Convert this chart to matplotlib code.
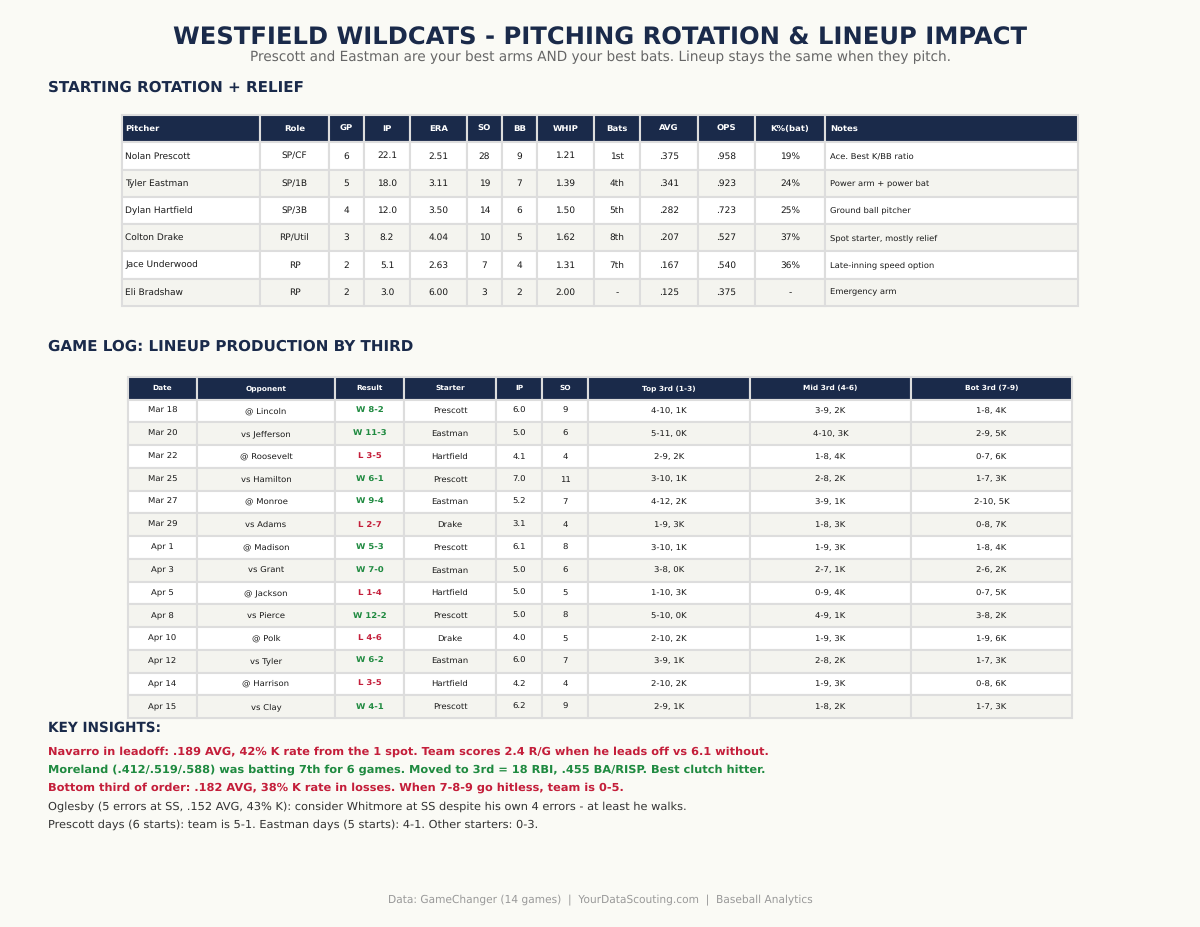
import matplotlib
matplotlib.use("Agg")
import matplotlib.pyplot as plt

plt.rcParams["text.hinting"] = "no_hinting"
plt.rcParams["text.hinting_factor"] = 8

NAVY = "#1a2a4a"; BG = "#fafaf5"; ALT = "#f4f4ef"; EDGE = "#dddddd"
GREEN = "#1f8a40"; RED = "#c41e3a"; W, H = 1200, 927

pitch_cols = ["Pitcher","Role","GP","IP","ERA","SO","BB","WHIP","Bats","AVG","OPS","K%(bat)","Notes"]
pitch_rows = [
 ["Nolan Prescott","SP/CF","6","22.1","2.51","28","9","1.21","1st",".375",".958","19%","Ace. Best K/BB ratio"],
 ["Tyler Eastman","SP/1B","5","18.0","3.11","19","7","1.39","4th",".341",".923","24%","Power arm + power bat"],
 ["Dylan Hartfield","SP/3B","4","12.0","3.50","14","6","1.50","5th",".282",".723","25%","Ground ball pitcher"],
 ["Colton Drake","RP/Util","3","8.2","4.04","10","5","1.62","8th",".207",".527","37%","Spot starter, mostly relief"],
 ["Jace Underwood","RP","2","5.1","2.63","7","4","1.31","7th",".167",".540","36%","Late-inning speed option"],
 ["Eli Bradshaw","RP","2","3.0","6.00","3","2","2.00","-",".125",".375","-","Emergency arm"],
]
pitch_edges = [122,260,329,364,410,467,502,537,594,640,698,755,825,1078]

log_cols = ["Date","Opponent","Result","Starter","IP","SO","Top 3rd (1-3)","Mid 3rd (4-6)","Bot 3rd (7-9)"]
log_rows = [
 ["Mar 18","@ Lincoln","W 8-2","Prescott","6.0","9","4-10, 1K","3-9, 2K","1-8, 4K"],
 ["Mar 20","vs Jefferson","W 11-3","Eastman","5.0","6","5-11, 0K","4-10, 3K","2-9, 5K"],
 ["Mar 22","@ Roosevelt","L 3-5","Hartfield","4.1","4","2-9, 2K","1-8, 4K","0-7, 6K"],
 ["Mar 25","vs Hamilton","W 6-1","Prescott","7.0","11","3-10, 1K","2-8, 2K","1-7, 3K"],
 ["Mar 27","@ Monroe","W 9-4","Eastman","5.2","7","4-12, 2K","3-9, 1K","2-10, 5K"],
 ["Mar 29","vs Adams","L 2-7","Drake","3.1","4","1-9, 3K","1-8, 3K","0-8, 7K"],
 ["Apr 1","@ Madison","W 5-3","Prescott","6.1","8","3-10, 1K","1-9, 3K","1-8, 4K"],
 ["Apr 3","vs Grant","W 7-0","Eastman","5.0","6","3-8, 0K","2-7, 1K","2-6, 2K"],
 ["Apr 5","@ Jackson","L 1-4","Hartfield","5.0","5","1-10, 3K","0-9, 4K","0-7, 5K"],
 ["Apr 8","vs Pierce","W 12-2","Prescott","5.0","8","5-10, 0K","4-9, 1K","3-8, 2K"],
 ["Apr 10","@ Polk","L 4-6","Drake","4.0","5","2-10, 2K","1-9, 3K","1-9, 6K"],
 ["Apr 12","vs Tyler","W 6-2","Eastman","6.0","7","3-9, 1K","2-8, 2K","1-7, 3K"],
 ["Apr 14","@ Harrison","L 3-5","Hartfield","4.2","4","2-10, 2K","1-9, 3K","0-8, 6K"],
 ["Apr 15","vs Clay","W 4-1","Prescott","6.2","9","2-9, 1K","1-8, 2K","1-7, 3K"],
]
log_edges = [128,197,335,404,496,542,588,750,911,1072]

insights = [
 ("Navarro in leadoff: .189 AVG, 42% K rate from the 1 spot. Team scores 2.4 R/G when he leads off vs 6.1 without.", RED, "bold"),
 ("Moreland (.412/.519/.588) was batting 7th for 6 games. Moved to 3rd = 18 RBI, .455 BA/RISP. Best clutch hitter.", GREEN, "bold"),
 ("Bottom third of order: .182 AVG, 38% K rate in losses. When 7-8-9 go hitless, team is 0-5.", RED, "bold"),
 ("Oglesby (5 errors at SS, .152 AVG, 43% K): consider Whitmore at SS despite his own 4 errors - at least he walks.", "#333333", "normal"),
 ("Prescott days (6 starts): team is 5-1. Eastman days (5 starts): 4-1. Other starters: 0-3.", "#333333", "normal"),
]
insight_y = [752, 770, 788, 807, 825]

fig = plt.figure(figsize=(12, 9.27), dpi=100, facecolor=BG)

def label(x, y, s, **kw):
    fig.text(x / W, 1 - y / H, s, va="center", **kw)

def draw_table(cols, rows, edges, top, bottom, head_fs, body_fs, left_cols=(), small=None, result_col=None):
    ax = fig.add_axes([edges[0] / W, 1 - bottom / H, (edges[-1] - edges[0]) / W, (bottom - top) / H])
    ax.axis("off")
    total = edges[-1] - edges[0]
    widths = [(b - a) / total for a, b in zip(edges, edges[1:])]
    t = ax.table(cellText=rows, colLabels=cols, colWidths=widths, bbox=[0, 0, 1, 1], cellLoc="center")
    t.auto_set_font_size(False)
    for (r, c), cell in t.get_celld().items():
        cell.set_edgecolor(EDGE)
        cell.set_linewidth(1.5)
        txt = cell.get_text()
        if c in left_cols:
            cell.set_text_props(ha="left")
            cell.PAD = 3 / (edges[c + 1] - edges[c]) if c == 0 else 5 / (edges[c + 1] - edges[c])
        if r == 0:
            cell.set_facecolor(NAVY)
            txt.set_color("white"); txt.set_fontweight("bold"); txt.set_fontsize(head_fs)
        else:
            cell.set_facecolor("white" if r % 2 else ALT)
            txt.set_color("#1a1a1a"); txt.set_fontsize(body_fs)
            if small and c == small[0]:
                txt.set_fontsize(small[1])
            if c == result_col:
                txt.set_fontweight("bold")
                txt.set_color(GREEN if rows[r - 1][c].startswith("W") else RED)
    return t

label(600, 38.5, "WESTFIELD WILDCATS - PITCHING ROTATION & LINEUP IMPACT", fontsize=17.5, fontweight="bold", color=NAVY, ha="center")
label(600, 57, "Prescott and Eastman are your best arms AND your best bats. Lineup stays the same when they pitch.", fontsize=9.82, color="#666666", ha="center")
label(48, 88, "STARTING ROTATION + RELIEF", fontsize=10.9, fontweight="bold", color=NAVY)
draw_table(pitch_cols, pitch_rows, pitch_edges, 115, 306, 6.1, 6.45, left_cols=(0, 12), small=(12, 6.05))
label(48, 347, "GAME LOG: LINEUP PRODUCTION BY THIRD", fontsize=10.9, fontweight="bold", color=NAVY)
draw_table(log_cols, log_rows, log_edges, 377, 718, 5.3, 6.1, result_col=2)
label(48, 728, "KEY INSIGHTS:", fontsize=9.8, fontweight="bold", color=NAVY)
for (s, col, wt), y in zip(insights, insight_y):
    label(48, y, s, fontsize=8.18, color=col, fontweight=wt)
label(600, 900, "Data: GameChanger (14 games)  |  YourDataScouting.com  |  Baseball Analytics", fontsize=7.67, color="#999999", ha="center")
fig.savefig("out.png", dpi=100, facecolor=BG)
